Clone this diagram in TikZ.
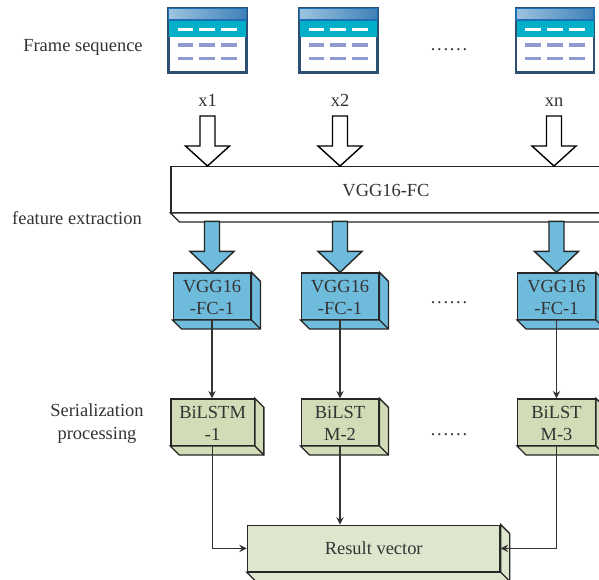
\documentclass[tikz,border=0pt]{standalone}
\usepackage{fontspec}
\setmainfont{Liberation Serif}
\usepackage{tikz}
\usetikzlibrary{arrows.meta}

\definecolor{inkgrey}{HTML}{333333}
\definecolor{vggblue}{HTML}{6FBBDC}
\definecolor{lstmgreen}{HTML}{D2DCB6}
\definecolor{resultgreen}{HTML}{DEE6CD}
\definecolor{iconteal}{HTML}{00AFC8}
\definecolor{icondash}{HTML}{8F9BD0}
\definecolor{iconedge}{HTML}{2C4F73}
\definecolor{iconbarleft}{HTML}{9CC4E0}
\definecolor{iconbarright}{HTML}{3F80B8}
\definecolor{iconbaredge}{HTML}{1F6FB5}

\tikzset{
  txt/.style={font=\fontsize{10.5}{12.8}\selectfont, text=inkgrey, align=center, inner sep=0pt},
  boxbase/.style={txt, draw=black!85, line width=0.75pt, inner sep=0pt},
  vggbox/.style={boxbase, fill=vggblue, minimum width=1.554cm, minimum height=0.926cm, text height=21.4pt},
  lstmbox/.style={boxbase, fill=lstmgreen, minimum width=1.554cm, minimum height=0.926cm, text height=21.4pt},
  iconbox/.style={draw=iconedge, line width=1.2pt, fill=white, minimum width=1.56cm, minimum height=1.28cm, inner sep=0pt},
  rowdash/.style={line width=2pt, dash pattern=on 9.1pt off 3.4pt},
  hollowarrow/.style={draw=black, line width=0.8pt, fill=white, line join=miter},
  bluearrow/.style={draw=black!85, line width=0.8pt, fill=vggblue, line join=miter},
  wire/.style={draw=inkgrey, line width=0.75pt, -{Stealth[length=4.2pt,width=4.2pt]}}
}

% side and bottom faces of a box, taken from its node
\newcommand{\cubeside}[2]{
  \path (#1.south east) ++(9,9) coordinate (#1c);
  \filldraw[draw=black!85, line width=0.75pt, fill=#2] (#1.south west) -- ++(9,9) -- (#1c) -- ([shift={(9,9)}]#1.north east) -- (#1.north east) -- (#1.south east) -- cycle;
  \draw[draw=black!85, line width=0.75pt] (#1.south east) -- (#1c);
}
% wide arrow, given by its tip
\newcommand{\blockarrow}[3]{
  \draw[#1] (#2) -- ++(-22,-#3) -- ++(14.5,0) -- ++(0,-30) -- ++(15,0) -- ++(0,30) -- ++(14.5,0) -- cycle;
}
% small table picture
\newcommand{\frameicon}[2]{
  \node[iconbox] (#1) at (#2,40.5) {};
  \fill[iconteal] ([shift={(-38.5,-20.5)}]#1.center) rectangle ([shift={(38.5,-3.5)}]#1.center);
  \shade[left color=iconbarleft, right color=iconbarright, draw=iconbaredge, line width=1pt] ([shift={(-39,-32)}]#1.center) rectangle ([shift={(39,-20.5)}]#1.center);
  \draw[rowdash, white] ([shift={(-30,-11)}]#1.center) -- ([shift={(30,-11)}]#1.center);
  \draw[rowdash, icondash] ([shift={(-30,4.5)}]#1.center) -- ([shift={(30,4.5)}]#1.center);
  \draw[rowdash, icondash] ([shift={(-30,18)}]#1.center) -- ([shift={(30,18)}]#1.center);
}
\newcommand{\gapdots}{.\kern1pt.\kern1pt.\kern1pt.\kern1pt.\kern1pt.}

\begin{document}
\begin{tikzpicture}[x=0.02cm,y=-0.02cm]
  \clip (0,0) rectangle (599,580);
  \fill[white] (0,0) rectangle (599,580);

  % left column
  \node[txt] (framelabel) at (83,47) {Frame sequence};
  \node[txt] (extractlabel) at (77,218) {feature extraction};
  \node[txt] (seriallabel) at (97,423.5) {Serialization\\processing};

  % frames
  \frameicon{frame1}{207.5}
  \frameicon{frame2}{338.5}
  \frameicon{frame3}{555}
  \node[txt, anchor=base] (dots1) at (449,51) {\gapdots};

  \node[txt, anchor=base] (x1) at (207.5,107) {x1};
  \node[txt, anchor=base] (x2) at (340,107) {x2};
  \node[txt, anchor=base] (xn) at (554,107) {xn};

  % big box
  \node[boxbase, fill=white, minimum width=9.6cm, minimum height=0.912cm] (fc) at (411,189.5) {};
  \cubeside{fc}{white}
  \node[txt] (fclabel) at (386,191) {VGG16-FC};

  \blockarrow{hollowarrow}{x1 |- fc.north}{20}
  \blockarrow{hollowarrow}{x2 |- fc.north}{20}
  \blockarrow{hollowarrow}{xn |- fc.north}{20}

  % feature boxes
  \node[vggbox] (vgg1) at (212,296.2) {VGG16\\-FC-1};
  \node[vggbox] (vgg2) at (340,296.2) {VGG16\\-FC-1};
  \node[vggbox] (vgg3) at (556.5,296.2) {VGG16\\-FC-1};
  \cubeside{vgg1}{vggblue}
  \cubeside{vgg2}{vggblue}
  \cubeside{vgg3}{vggblue}
  \node[txt, anchor=base] (dots2) at (449,304) {\gapdots};

  \blockarrow{bluearrow}{vgg1.north}{21}
  \blockarrow{bluearrow}{vgg2.north}{21}
  \blockarrow{bluearrow}{vgg3.north}{21}

  % serialization boxes
  \node[lstmbox, minimum width=1.666cm] (lstm1) at (212.6,422.2) {BiLSTM\\-1};
  \node[lstmbox] (lstm2) at (340,422.2) {BiLST\\M-2};
  \node[lstmbox] (lstm3) at (556.5,422.2) {BiLST\\M-3};
  \cubeside{lstm1}{lstmgreen}
  \cubeside{lstm2}{lstmgreen}
  \cubeside{lstm3}{lstmgreen}
  \node[txt, anchor=base] (dots3) at (449,436) {\gapdots};

  % result
  \node[boxbase, fill=resultgreen, minimum width=5.054cm, minimum height=0.926cm] (result) at (373.7,548.4) {Result vector};
  \cubeside{result}{resultgreen}

  \draw[wire] (vgg1.south) -- (vgg1.south |- lstm1.north);
  \draw[wire] (vgg2.south) -- (vgg2.south |- lstm2.north);
  \draw[wire] (vgg3.south) -- (vgg3.south |- lstm3.north);
  \draw[wire] (lstm1.south) |- (result.west);
  \draw[wire] (lstm2.south) -- (lstm2.south |- result.north);
  \draw[wire] (lstm3.south) |- (result.east);
\end{tikzpicture}
\end{document}
